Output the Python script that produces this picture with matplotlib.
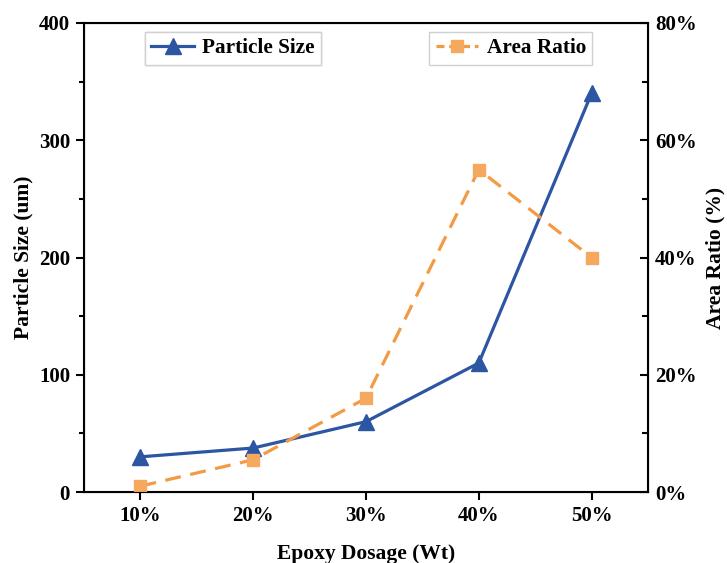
import matplotlib
matplotlib.use('Agg')
import matplotlib.pyplot as plt
from matplotlib.ticker import MultipleLocator, FuncFormatter
from matplotlib.lines import Line2D

plt.rcParams['font.family'] = ['Liberation Serif', 'DejaVu Serif']
plt.rcParams['font.weight'] = 'bold'

dosage = ['10%', '20%', '30%', '40%', '50%']
particle_size = [30, 37.5, 60, 110, 340]
area_ratio = [1, 5.5, 16, 55, 40]

blue = '#2C55A2'
orange = '#F39A45'
orange_marker = '#F5A95E'

fig = plt.figure(figsize=(7.27, 5.63), dpi=100)
ax = fig.add_axes([84 / 727, 1 - 492 / 563, 564 / 727, 469 / 563])
ax2 = ax.twinx()

x = list(range(len(dosage)))
ax.plot(x, particle_size, color=blue, lw=2.3, marker='^', ms=12, zorder=3)
ax2.plot(x, area_ratio, color=orange, lw=2.3, ls=(0, (5, 3)), marker='s',
         ms=9, mfc=orange_marker, mec=orange_marker)

ax.set_xlim(-0.5, 4.5)
ax.set_ylim(0, 400)
ax2.set_ylim(0, 80)
ax.set_xticks(x)
ax.set_xticklabels(dosage)
ax.yaxis.set_major_locator(MultipleLocator(100))
ax.yaxis.set_minor_locator(MultipleLocator(50))
ax2.yaxis.set_major_locator(MultipleLocator(20))
ax2.yaxis.set_minor_locator(MultipleLocator(10))
ax2.yaxis.set_major_formatter(FuncFormatter(lambda v, p: '%d%%' % v))

for s in ax.spines.values():
    s.set_linewidth(1.5)
ax.tick_params(which='major', direction='out', length=6, width=1.5, labelsize=15, pad=4)
ax.tick_params(which='minor', direction='out', length=3.5, width=1.5)
# right axis ticks point into the plot
ax2.tick_params(which='major', direction='in', length=6, width=1.5, labelsize=15, pad=5)
ax2.tick_params(which='minor', direction='in', length=4, width=1.5)

ax.set_xlabel('Epoxy Dosage (Wt)', fontsize=15.5, fontweight='bold', labelpad=13)
ax.set_ylabel('Particle Size (um)', fontsize=15.5, fontweight='bold', labelpad=4)
ax2.set_ylabel('Area Ratio (%)', fontsize=15.5, fontweight='bold', labelpad=6.5)

h1 = Line2D([], [], color=blue, lw=2.3, marker='^', ms=12)
h2 = Line2D([], [], color=orange, lw=2.3, ls=(0, (2.5, 1.5)), marker='s',
            ms=9, mfc=orange_marker, mec=orange_marker)
leg_kw = dict(fontsize=15.3, fancybox=False, framealpha=1, edgecolor='#D0D0D0',
              handlelength=2.0, borderpad=0.3, borderaxespad=0, handletextpad=0.4)
leg1 = ax.legend([h1], ['Particle Size'], loc='upper left',
                 bbox_to_anchor=(0.108, 0.981), **leg_kw)
leg1.get_frame().set_linewidth(1.0)
ax.add_artist(leg1)
leg2 = ax2.legend([h2], ['Area Ratio'], loc='upper left',
                  bbox_to_anchor=(0.612, 0.981), **leg_kw)
leg2.get_frame().set_linewidth(1.0)

fig.savefig('out.png', dpi=100)
